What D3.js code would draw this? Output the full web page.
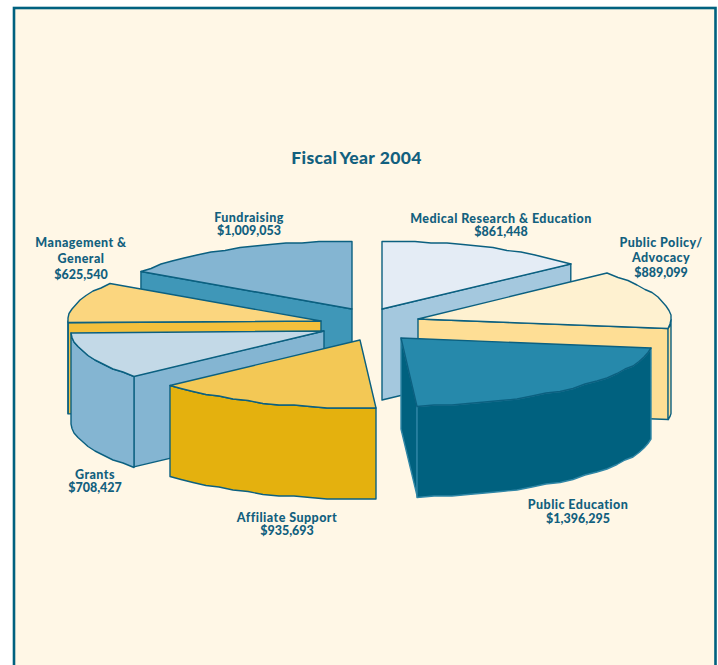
<!DOCTYPE html>
<html>
<head>
<meta charset="utf-8">
<script src="https://cdn.jsdelivr.net/npm/d3@7"></script>
<style>
html, body { margin: 0; padding: 0; background: #fff; }
svg { display: block; }
text { font-family: Lato, "Open Sans", sans-serif; font-weight: 900; fill: #12607e; text-anchor: middle; }
</style>
</head>
<body>
<svg id="chart" width="718" height="665"></svg>
<script>
// clockwise from 12 o'clock
var categories = ["Medical Research & Education", "Public Policy/ Advocacy", "Public Education", "Affiliate Support", "Grants", "Management & General", "Fundraising"];
var amounts = [861448, 889099, 1396295, 935693, 708427, 625540, 1009053];

// wrapped name lines of each label
var labelLines = [["Medical Research & Education"], ["Public Policy/", "Advocacy"], ["Public Education"], ["Affiliate Support"], ["Grants"], ["Management &", "General"], ["Fundraising"]];
var labelAt = [[501, 223], [661, 247], [578, 509], [287, 522], [95, 479], [81, 247], [249, 222]];
var labelStep = [13, 15, 14, 13, 13, 16, 13];

// where each exploded slice has its tip
var tips = [[382, 309], [418, 319], [401, 338], [360, 340], [324, 331], [321, 321], [352, 309]];

var topColors = ["#e4ecf5", "#fef1d0", "#2689ab", "#f3c855", "#c3d9e7", "#fbd67f", "#84b5d2"];
var cutColors = ["#a4c8de", "#fede95", "#00617f", "#e4b10e", "#84b5d2", "#f3c03c", "#3f97b8"];
var wallColors = ["#a4c8de", "#fede95", "#00617f", "#e4b10e", "#84b5d2", "#e4b10e", "#3f97b8"];
var wallLines = ["#0b6080", "#0b6080", "#2f86a6", "#0b6080", "#0b6080", "#0b6080", "#0b6080"];

// back to front
var drawOrder = [6, 0, 5, 4, 1, 3, 2];

var depth = 91, line = "#0b6080";
var sx = d3.scaleLinear().domain([-1, 1]).range([-253, 253]);
var sy = d3.scaleLinear().domain([-1, 1]).range([-68, 68]);

var svg = d3.select("#chart");

svg.append("rect")
    .attr("x", 14).attr("y", 8)
    .attr("width", 701.5).attr("height", 680)
    .attr("fill", "#fff7e6").attr("stroke", "#00617f").attr("stroke-width", 2.6);

var title = svg.append("text")
    .attr("x", 356.5).attr("y", 164)
    .attr("font-size", 17.5)
    .attr("letter-spacing", 0.35);
title.append("tspan").attr("word-spacing", -1.8).text("Fiscal Year");
title.append("tspan").text(" 2004");

var arcs = d3.pie().value(d => d).sort(null)(amounts);

// point on the rim of slice i
var rim = (i, a) => {
    return [tips[i][0] + sx(Math.sin(a)), tips[i][1] + sy(-Math.cos(a))];
};

// the rim between two angles, in short pieces as the scan has it
var rimPoints = (i, a0, a1) => {
    var n = Math.max(1, Math.ceil((a1 - a0) / 0.07));
    return d3.range(n + 1).map(k => {
        var p = rim(i, a0 + (a1 - a0) * k / n);
        return [Math.round(p[0]), Math.round(p[1] / 1.5) * 1.5];
    });
};

var down = (pts) => pts.map(p => [p[0], p[1] + depth]);
var path = d3.line();

var face = (g, pts, fill, stroke) => {
    g.append("path")
        .attr("d", path(pts) + "Z")
        .attr("fill", fill)
        .attr("stroke", stroke || line)
        .attr("stroke-width", 1.4)
        .attr("stroke-linejoin", "round");
};

drawOrder.forEach(i => {
    var a0 = arcs[i].startAngle, a1 = arcs[i].endAngle;
    var g = svg.append("g");
    var tip = tips[i];

    // flat cuts, only those that face the viewer
    if (Math.sin(a0) < 0) {
        var s = rim(i, a0);
        face(g, [tip, s, [s[0], s[1] + depth], [tip[0], tip[1] + depth]], cutColors[i], wallLines[i]);
    }
    if (Math.sin(a1) > 0) {
        var e = rim(i, a1);
        face(g, [tip, e, [e[0], e[1] + depth], [tip[0], tip[1] + depth]], cutColors[i], wallLines[i]);
    }

    // outer wall, front half of the ellipse only
    var w0 = Math.max(a0, Math.PI / 2), w1 = Math.min(a1, Math.PI * 1.5);
    if (w1 > w0) {
        var wall = rimPoints(i, w0, w1);
        face(g, wall.concat(down(wall).reverse()), wallColors[i], wallLines[i]);
    }

    face(g, [tip].concat(rimPoints(i, a0, a1)), topColors[i]);
});

var money = d3.format("$,");
categories.forEach((c, i) => {
    var rows = labelLines[i].concat(money(amounts[i]));
    var label = svg.append("text")
        .attr("y", labelAt[i][1])
        .attr("font-size", 12.5);
    rows.forEach((t, k) => {
        label.append("tspan")
            .attr("x", labelAt[i][0])
            .attr("dy", k ? labelStep[i] : 0)
            .attr("letter-spacing", k == rows.length - 1 ? 0 : 0.45)
            .text(t);
    });
});
</script>
</body>
</html>
